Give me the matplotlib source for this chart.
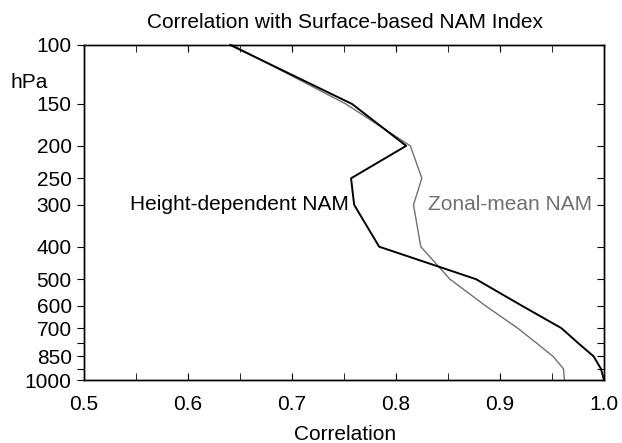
import matplotlib
matplotlib.use("Agg")
import matplotlib.pyplot as plt
import numpy as np

plt.rcParams['font.family'] = ['Liberation Sans', 'DejaVu Sans']

# pressure levels (hPa)
levels = [100, 150, 200, 250, 300, 400, 500, 600, 700, 775, 850, 925, 1000]
# correlation with surface NAM index
height_dep = [0.641, 0.758, 0.810, 0.757, 0.760, 0.784, 0.877, 0.921, 0.959, 0.975, 0.990, 0.997, 1.0]
zonal_mean = [0.643, 0.752, 0.814, 0.825, 0.817, 0.824, 0.852, 0.886, 0.917, 0.935, 0.951, 0.961, 0.962]

tick_levels = [100, 150, 200, 250, 300, 400, 500, 600, 700, 775, 850, 925, 1000]
tick_labels = ['100', '150', '200', '250', '300', '400', '500', '600', '700', '', '850', '', '1000']

fs = 15
W, H = 622, 443

fig = plt.figure(figsize=(W / 100, H / 100), dpi=100)
ax = fig.add_axes([83.5 / W, 1 - 380 / H, (604 - 83.5) / W, (380 - 45) / H])

ax.plot(zonal_mean, levels, color='#707070', lw=1.0, clip_on=False)
ax.plot(height_dep, levels, color='black', lw=1.4, clip_on=False)

ax.set_yscale('log')
ax.set_ylim(1000, 100)
ax.set_xlim(0.5, 1.0)
ax.set_yticks(tick_levels)
ax.set_yticklabels(tick_labels)
ax.yaxis.set_minor_locator(matplotlib.ticker.NullLocator())
ax.set_xticks(np.arange(0.5, 1.001, 0.1))
ax.set_xticklabels(['0.5', '0.6', '0.7', '0.8', '0.9', '1.0'])
ax.set_xticks(np.arange(0.55, 1.0, 0.1), minor=True)

ax.tick_params(axis='y', which='both', direction='out', length=5, labelsize=fs, pad=3.5)
ax.tick_params(axis='x', which='both', direction='in', length=5, labelsize=fs, top=True, pad=11)

# right side ticks point inward
ax2 = ax.twinx()
ax2.set_yscale('log')
ax2.set_ylim(1000, 100)
ax2.set_yticks(tick_levels)
ax2.set_yticklabels([])
ax2.yaxis.set_minor_locator(matplotlib.ticker.NullLocator())
ax2.tick_params(axis='y', direction='in', length=5)

for a in (ax, ax2):
    for s in a.spines.values():
        s.set_linewidth(1.0)

fig.text(345 / W, 1 - 22 / H, 'Correlation with Surface-based NAM Index',
         fontsize=fs, ha='center', va='center')
fig.text(345 / W, 1 - 435 / H, 'Correlation', fontsize=fs, ha='center', va='center')
fig.text(11 / W, 1 - 82 / H, 'hPa', fontsize=fs, va='center', ha='left')

ax.text(0.755, 300, 'Height-dependent NAM', fontsize=fs, ha='right', va='center', color='black')
ax.text(0.831, 300, 'Zonal-mean NAM', fontsize=fs, ha='left', va='center', color='#707070')

fig.savefig('out.png', dpi=100)
